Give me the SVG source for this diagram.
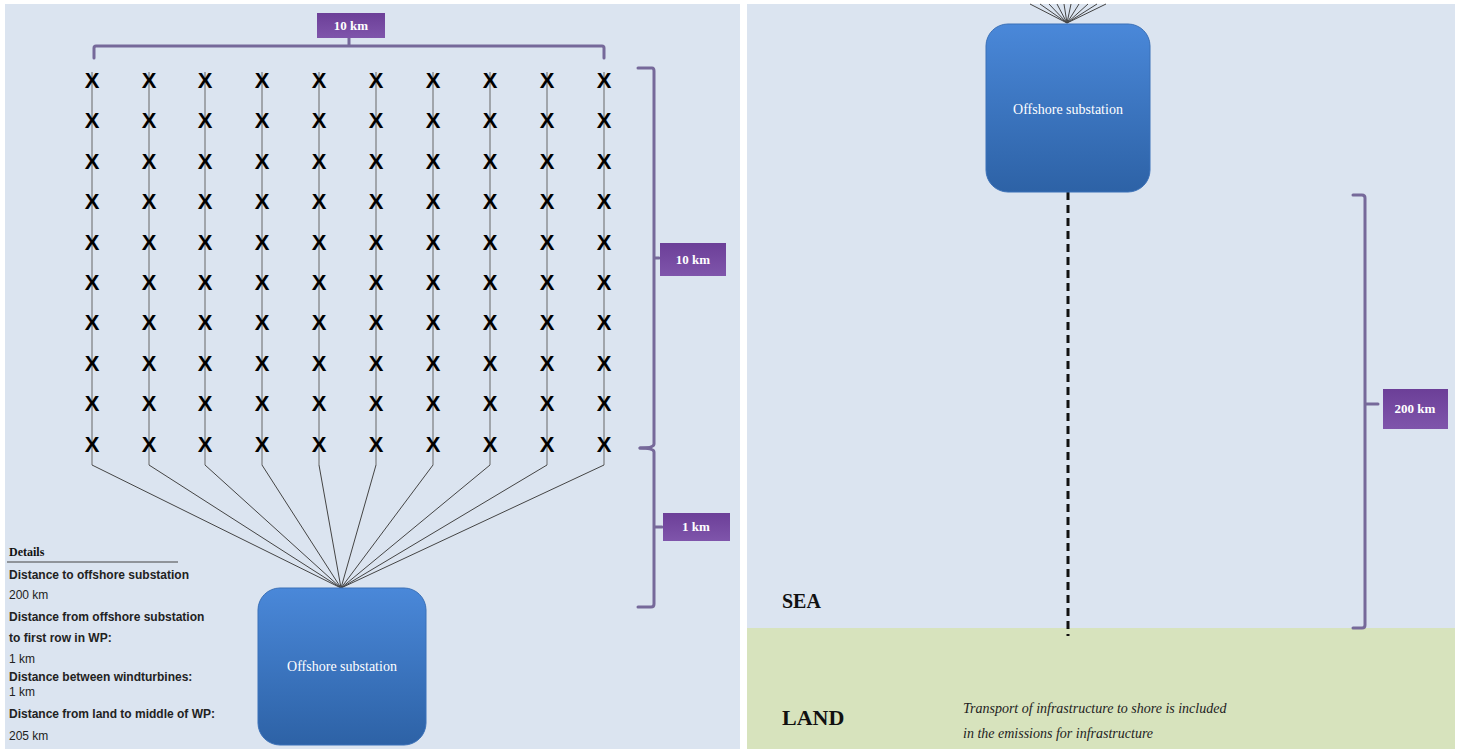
<svg xmlns="http://www.w3.org/2000/svg" width="1462" height="749" viewBox="0 0 1462 749">
<defs>
<linearGradient id="blue" x1="0" y1="0" x2="0" y2="1"><stop offset="0" stop-color="#4a88d9"/><stop offset="1" stop-color="#2d62a6"/></linearGradient>
<linearGradient id="purple" x1="0" y1="0" x2="0" y2="1"><stop offset="0" stop-color="#6c3f98"/><stop offset="1" stop-color="#7f55ab"/></linearGradient>
<style>
.x{font-family:"Liberation Sans",Arial,sans-serif;font-weight:bold;font-size:22px;fill:#000;text-anchor:middle}
.col{stroke:#666;stroke-width:1;fill:none}
.fan{stroke:#444;stroke-width:1;fill:none}
.br{stroke:#76699a;stroke-width:3;fill:none;stroke-linecap:round;stroke-linejoin:round}
.lbl{fill:url(#purple)}
.lt{font-family:"Liberation Serif","Times New Roman",serif;font-size:13px;font-weight:bold;fill:#fff;text-anchor:middle}
.sub{fill:url(#blue);stroke:#3a70b8;stroke-width:1}
.st{font-family:"Liberation Serif","Times New Roman",serif;font-size:14px;fill:#fff;text-anchor:middle}
.d{font-family:"Liberation Sans",Arial,sans-serif;font-size:12px;fill:#222}
.db{font-weight:bold}
.big{font-family:"Liberation Serif","Times New Roman",serif;font-weight:bold;fill:#111}
.it{font-family:"Liberation Serif","Times New Roman",serif;font-style:italic;font-size:14px;fill:#222}
</style>
</defs>
<rect width="1462" height="749" fill="#ffffff"/>
<rect x="5" y="4" width="735" height="745" fill="#dbe4f0"/>
<rect x="747" y="4" width="708" height="745" fill="#dbe4f0"/>
<rect x="747" y="628" width="708" height="121" fill="#d7e3bd"/>

<g id="connectors">
<g id="columns">
<line class="col" x1="92" y1="72" x2="92" y2="465"/>
<line class="col" x1="149" y1="72" x2="149" y2="465"/>
<line class="col" x1="205" y1="72" x2="205" y2="465"/>
<line class="col" x1="262" y1="72" x2="262" y2="465"/>
<line class="col" x1="319" y1="72" x2="319" y2="465"/>
<line class="col" x1="376" y1="72" x2="376" y2="465"/>
<line class="col" x1="433" y1="72" x2="433" y2="465"/>
<line class="col" x1="490" y1="72" x2="490" y2="465"/>
<line class="col" x1="547" y1="72" x2="547" y2="465"/>
<line class="col" x1="604" y1="72" x2="604" y2="465"/>
</g>
<g id="fan-left">
<line class="fan" x1="92" y1="465" x2="341" y2="588"/>
<line class="fan" x1="149" y1="465" x2="341" y2="588"/>
<line class="fan" x1="205" y1="465" x2="341" y2="588"/>
<line class="fan" x1="262" y1="465" x2="341" y2="588"/>
<line class="fan" x1="319" y1="465" x2="341" y2="588"/>
<line class="fan" x1="376" y1="465" x2="341" y2="588"/>
<line class="fan" x1="433" y1="465" x2="341" y2="588"/>
<line class="fan" x1="490" y1="465" x2="341" y2="588"/>
<line class="fan" x1="547" y1="465" x2="341" y2="588"/>
<line class="fan" x1="604" y1="465" x2="341" y2="588"/>
</g>
<g id="fan-right">
<line class="fan" x1="1067" y1="23" x2="1030" y2="4"/>
<line class="fan" x1="1067" y1="23" x2="1040" y2="4"/>
<line class="fan" x1="1067" y1="23" x2="1049" y2="4"/>
<line class="fan" x1="1067" y1="23" x2="1057" y2="4"/>
<line class="fan" x1="1067" y1="23" x2="1064" y2="4"/>
<line class="fan" x1="1067" y1="23" x2="1071" y2="4"/>
<line class="fan" x1="1067" y1="23" x2="1079" y2="4"/>
<line class="fan" x1="1067" y1="23" x2="1088" y2="4"/>
<line class="fan" x1="1067" y1="23" x2="1097" y2="4"/>
<line class="fan" x1="1067" y1="23" x2="1106" y2="4"/>
</g>
<line id="cable" x1="1068" y1="192" x2="1068" y2="636" stroke="#111" stroke-width="3" stroke-dasharray="8,5"/>
</g>

<g id="turbines">
<text class="x" x="92 149 205 262 319 376 433 490 547 604" y="88">XXXXXXXXXX</text>
<text class="x" x="92 149 205 262 319 376 433 490 547 604" y="128">XXXXXXXXXX</text>
<text class="x" x="92 149 205 262 319 376 433 490 547 604" y="169">XXXXXXXXXX</text>
<text class="x" x="92 149 205 262 319 376 433 490 547 604" y="209">XXXXXXXXXX</text>
<text class="x" x="92 149 205 262 319 376 433 490 547 604" y="250">XXXXXXXXXX</text>
<text class="x" x="92 149 205 262 319 376 433 490 547 604" y="290">XXXXXXXXXX</text>
<text class="x" x="92 149 205 262 319 376 433 490 547 604" y="330">XXXXXXXXXX</text>
<text class="x" x="92 149 205 262 319 376 433 490 547 604" y="371">XXXXXXXXXX</text>
<text class="x" x="92 149 205 262 319 376 433 490 547 604" y="411">XXXXXXXXXX</text>
<text class="x" x="92 149 205 262 319 376 433 490 547 604" y="452">XXXXXXXXXX</text>
</g>

<g id="dim-top">
<path class="br" d="M94,58 L94,48 Q94,46 96,46 L602,46 Q604,46 604,48 L604,58 M349,46 L349,38"/>
<rect class="lbl" x="317" y="13" width="68" height="25"/>
<text class="lt" x="351" y="30">10 km</text>
</g>
<g id="dim-10km">
<path class="br" d="M638,68 L652,68 Q654,68 654,71 L654,444 Q654,448 640,448 M654,258 L659,258"/>
<rect class="lbl" x="660" y="243" width="66" height="33"/>
<text class="lt" x="693" y="264">10 km</text>
</g>
<g id="dim-1km">
<path class="br" d="M640,448 Q654,448 654,452 L654,604 Q654,607 651,607 L638,607 M654,527 L662,527"/>
<rect class="lbl" x="663" y="513" width="67" height="28"/>
<text class="lt" x="696" y="531">1 km</text>
</g>
<g id="dim-200km">
<path class="br" d="M1353,195 L1362,195 Q1365,195 1365,198 L1365,625 Q1365,628 1362,628 L1353,628 M1365,404 L1378,404"/>
<rect class="lbl" x="1383" y="389" width="65" height="40"/>
<text class="lt" x="1415" y="413">200 km</text>
</g>

<g id="substation-left">
<rect class="sub" x="258" y="588" width="168" height="157" rx="22"/>
<text class="st" x="342" y="671">Offshore substation</text>
</g>
<g id="substation-right">
<rect class="sub" x="986" y="24" width="164" height="168" rx="22"/>
<text class="st" x="1068" y="114">Offshore substation</text>
</g>

<g id="details">
<text class="big" x="9" y="556" font-size="12">Details</text>
<line x1="7" y1="562" x2="178" y2="562" stroke="#444" stroke-width="1"/>
<text class="d db" x="9" y="579">Distance to offshore substation</text>
<text class="d" x="9" y="599">200 km</text>
<text class="d db" x="9" y="621">Distance from offshore substation</text>
<text class="d db" x="9" y="642">to first row in WP:</text>
<text class="d" x="9" y="663">1 km</text>
<text class="d db" x="9" y="681">Distance between windturbines:</text>
<text class="d" x="9" y="696">1 km</text>
<text class="d db" x="9" y="718">Distance from land to middle of WP:</text>
<text class="d" x="9" y="740">205 km</text>
</g>

<g id="labels">
<text class="big" x="782" y="608" font-size="20">SEA</text>
<text class="big" x="782" y="725" font-size="22">LAND</text>
<text class="it" x="963" y="713">Transport of infrastructure to shore is included</text>
<text class="it" x="963" y="738">in the emissions for infrastructure</text>
</g>
</svg>
